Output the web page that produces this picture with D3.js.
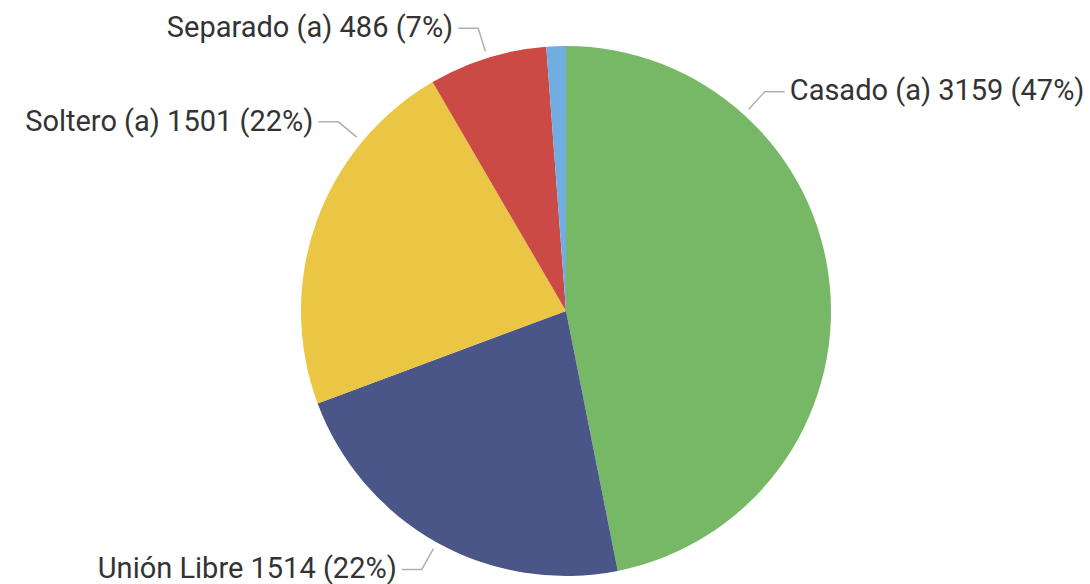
<!DOCTYPE html>
<html>
<head>
<meta charset="utf-8">
<script src="https://cdn.jsdelivr.net/npm/d3@7"></script>
<style>
  html, body { margin: 0; padding: 0; background: #fff; }
  svg { display: block; }
</style>
</head>
<body>
<div id="chart"></div>
<script>
// data
const categories = ['Casado (a)', 'Unión Libre', 'Soltero (a)', 'Separado (a)', 'Otro'];
const values = [3159, 1514, 1501, 486, 80];
const colors = ['#76B865', '#4A5688', '#EBC544', '#CC4A45', '#72ADE2'];
const showLabel = [true, true, true, true, false];
// where along each slice the label leader sits (0 = start, 1 = end)
const labelFrac = [0.25, 0.5, 0.75, 0.5, 0.5];

const width = 1090, height = 584;
const cx = 566, cy = 311, radius = 265;

const svg = d3.select('#chart')
  .append('svg')
  .attr('width', width)
  .attr('height', height);

const g = svg.append('g')
  .attr('transform', `translate(${cx},${cy})`);

const total = d3.sum(values);
const rows = categories.map((c, i) => ({ name: c, value: values[i], i }));

const pie = d3.pie()
  .value(d => d.value)
  .sort(null);

const arcs = pie(rows);

const arc = d3.arc()
  .innerRadius(0)
  .outerRadius(radius);

g.selectAll('path.slice')
  .data(arcs)
  .enter()
  .append('path')
  .attr('class', 'slice')
  .attr('d', arc)
  .attr('fill', d => colors[d.data.i]);

// labels with leader lines
const pt = (a, r) => [Math.sin(a) * r, -Math.cos(a) * r];

const labels = arcs.filter(d => showLabel[d.data.i]);

labels.forEach(d => {
  const a = d.startAngle + (d.endAngle - d.startAngle) * labelFrac[d.data.i];
  const p0 = pt(a, radius + 7);
  const p1 = pt(a, radius + 31);
  const right = Math.sin(a) > 0;
  const p2 = [p1[0] + (right ? 20 : -20), p1[1]];

  g.append('polyline')
    .attr('points', [p0, p1, p2].map(p => p.join(',')).join(' '))
    .attr('fill', 'none')
    .attr('stroke', '#b0b0b0')
    .attr('stroke-width', 1.5);

  const pct = Math.round(d.data.value / total * 100);
  g.append('text')
    .attr('x', p2[0] + (right ? 5 : -5))
    .attr('y', p2[1])
    .attr('dy', '0.3em')
    .attr('text-anchor', right ? 'start' : 'end')
    .attr('font-family', 'Roboto, "DejaVu Sans", sans-serif')
    .attr('font-size', 29)
    .attr('fill', '#333')
    .text(`${d.data.name} ${d.data.value} (${pct}%)`);
});
</script>
</body>
</html>
